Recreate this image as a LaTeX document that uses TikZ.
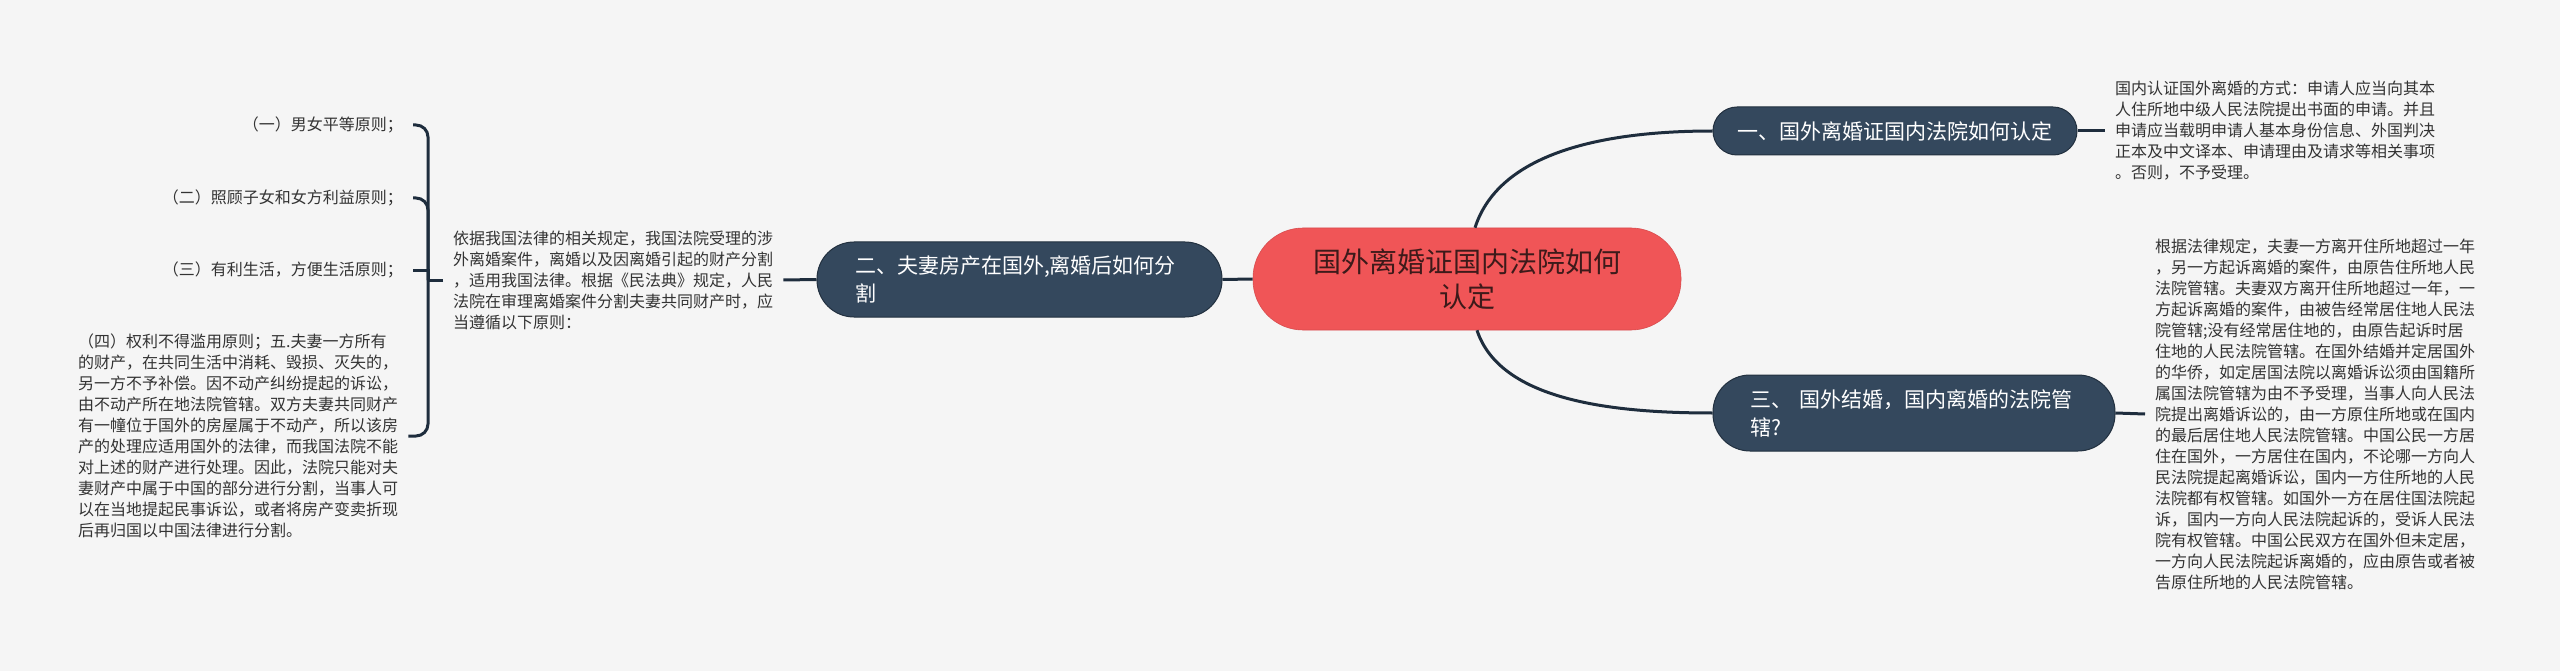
\documentclass[tikz,border=0pt]{standalone}
\usepackage{fontspec}
\setmainfont{Noto Sans CJK SC}
\definecolor{bgc}{HTML}{F5F5F5}
\definecolor{nodec}{HTML}{34485D}
\definecolor{nodeb}{HTML}{22303F}
\definecolor{linec}{HTML}{1E2D3D}
\definecolor{redc}{HTML}{F05557}
\definecolor{ctext}{HTML}{3D1A1A}
\definecolor{leafc}{HTML}{333333}
\begin{document}
\begin{tikzpicture}[x=1pt,y=-1pt,
  conn/.style={draw=linec, line width=3pt},
  mainbox/.style={fill=nodec, draw=nodeb, line width=1pt, text=white, font=\fontsize{21}{28}\selectfont},
  leaf/.style={text=leafc, font=\fontsize{16}{21}\selectfont, align=left, inner xsep=10pt, inner ysep=2pt},
  leafr/.style={text=leafc, font=\fontsize{16}{21}\selectfont, align=right, inner xsep=10pt, inner ysep=2pt}]
\fill[bgc] (0,0) rectangle (2560,671);

% central node
\node[fill=redc, draw=redc!90!black, line width=0.6pt, text=ctext, minimum width=428pt, minimum height=102pt,
  rounded corners=50pt, inner sep=0pt, align=center, font=\fontsize{28}{35}\selectfont] (ctr) at (1467,279)
  {国外离婚证国内法院如何\\认定};

% main branches
\node[mainbox, minimum width=364pt, minimum height=48pt, rounded corners=24pt, inner sep=0pt] (n1) at (1895,131)
  {一、国外离婚证国内法院如何认定};
\node[mainbox, text width=329pt, inner xsep=38pt, minimum height=75pt, rounded corners=37pt, align=left] (n2) at (1019.5,279.5)
  {二、夫妻房产在国外,离婚后如何分\\割};
\node[mainbox, text width=328pt, inner xsep=37pt, minimum height=76pt, rounded corners=37pt, align=left] (n3) at (1914,413)
  {三、 国外结婚，国内离婚的法院管\\辖?};

% leaves
\node[leaf, anchor=west] (a) at (2105,131)
  {国内认证国外离婚的方式：申请人应当向其本\\
   人住所地中级人民法院提出书面的申请。并且\\
   申请应当载明申请人基本身份信息、外国判决\\
   正本及中文译本、申请理由及请求等相关事项\\
   。否则，不予受理。};
\node[leaf, anchor=west] (b) at (2145,414)
  {根据法律规定，夫妻一方离开住所地超过一年\\
   ，另一方起诉离婚的案件，由原告住所地人民\\
   法院管辖。夫妻双方离开住所地超过一年，一\\
   方起诉离婚的案件，由被告经常居住地人民法\\
   院管辖;没有经常居住地的，由原告起诉时居\\
   住地的人民法院管辖。在国外结婚并定居国外\\
   的华侨，如定居国法院以离婚诉讼须由国籍所\\
   属国法院管辖为由不予受理，当事人向人民法\\
   院提出离婚诉讼的，由一方原住所地或在国内\\
   的最后居住地人民法院管辖。中国公民一方居\\
   住在国外，一方居住在国内，不论哪一方向人\\
   民法院提起离婚诉讼，国内一方住所地的人民\\
   法院都有权管辖。如国外一方在居住国法院起\\
   诉，国内一方向人民法院起诉的，受诉人民法\\
   院有权管辖。中国公民双方在国外但未定居，\\
   一方向人民法院起诉离婚的，应由原告或者被\\
   告原住所地的人民法院管辖。};
\node[leaf, anchor=west] (c) at (443,280)
  {依据我国法律的相关规定，我国法院受理的涉\\
   外离婚案件，离婚以及因离婚引起的财产分割\\
   ，适用我国法律。根据《民法典》规定，人民\\
   法院在审理离婚案件分割夫妻共同财产时，应\\
   当遵循以下原则：};
\node[leafr, anchor=east] (d1) at (413,125) {（一）男女平等原则；};
\node[leafr, anchor=east] (d2) at (413,198) {（二）照顾子女和女方利益原则；};
\node[leafr, anchor=east] (d3) at (413,270) {（三）有利生活，方便生活原则；};
\node[leaf, anchor=west] (d4) at (68,436)
  {（四）权利不得滥用原则；五.夫妻一方所有\\
   的财产，在共同生活中消耗、毁损、灭失的，\\
   另一方不予补偿。因不动产纠纷提起的诉讼，\\
   由不动产所在地法院管辖。双方夫妻共同财产\\
   有一幢位于国外的房屋属于不动产，所以该房\\
   产的处理应适用国外的法律，而我国法院不能\\
   对上述的财产进行处理。因此，法院只能对夫\\
   妻财产中属于中国的部分进行分割，当事人可\\
   以在当地提起民事诉讼，或者将房产变卖折现\\
   后再归国以中国法律进行分割。};

% connectors
\coordinate (j) at (428,280);
\draw[conn] ([xshift=8pt]ctr.north) .. controls (1500,150) and (1610,131) .. (n1.west);
\draw[conn] ([xshift=10pt]ctr.south) .. controls (1500,400) and (1610,413) .. (n3.west);
\draw[conn] (n2.east) -- (ctr.west);
\draw[conn] (n1.east) -- (a.west);
\draw[conn] (n3.east) -- (b.west);
\draw[conn] (n2.west) -- (c.east);
\draw[conn] (c.west) -- (j);
\draw[conn, rounded corners=12pt] (j) |- (d1.east);
\draw[conn, rounded corners=12pt] (j) |- (d2.east);
\draw[conn] (j) -- (j |- d3.east) -- (d3.east);
\draw[conn, rounded corners=12pt] (j) |- (d4.east);
\end{tikzpicture}
\end{document}
